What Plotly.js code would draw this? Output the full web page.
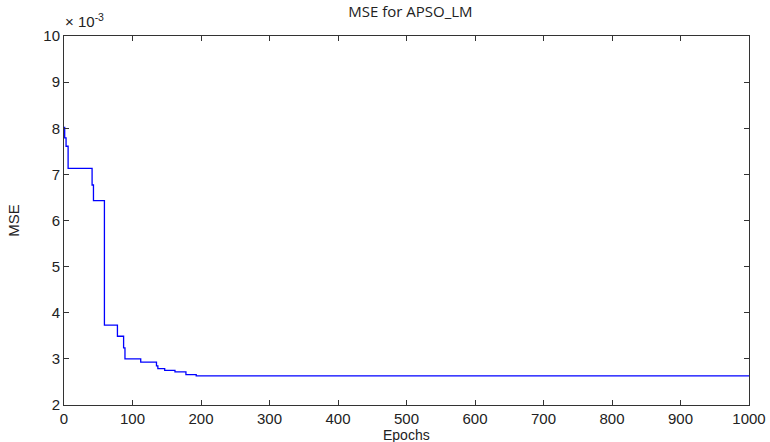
<!DOCTYPE html>
<html>
<head>
<meta charset="utf-8">
<script src="https://cdn.plot.ly/plotly-3.0.1.min.js"></script>
<style>html,body{margin:0;padding:0;background:#fff;}#chart{width:770px;height:442px;}</style>
</head>
<body>
<div id="chart"></div>
<script>
// Epoch at which each new MSE level starts (step plot)
const epochs = [0, 1, 3, 6, 41, 43, 59, 78, 87, 89, 112, 135, 137, 147, 162, 178, 193, 1000];
const mse = [0.00802, 0.00779, 0.00761, 0.00713, 0.00677, 0.00643, 0.00373, 0.00349, 0.00324, 0.00300, 0.00293, 0.00285, 0.00279, 0.00275, 0.00272, 0.00266, 0.00263, 0.00263];
const xTicks = [0, 100, 200, 300, 400, 500, 600, 700, 800, 900, 1000];
const yTickVals = [0.002, 0.003, 0.004, 0.005, 0.006, 0.007, 0.008, 0.009, 0.010];
const yTickText = ['2', '3', '4', '5', '6', '7', '8', '9', '10'];

const FONT = '"Liberation Sans", Arial, sans-serif';
const trace = {
  x: epochs, y: mse, type: 'scatter', mode: 'lines',
  line: {color: '#0000ff', width: 1.3, shape: 'hv'},
  hoverinfo: 'skip'
};
const axisCommon = {
  showgrid: false, zeroline: false, showline: true, linecolor: '#333', linewidth: 1,
  mirror: 'ticks', ticks: 'inside', ticklen: 5, tickcolor: '#333',
  tickfont: {family: FONT, size: 15, color: '#222'}
};
const layout = {
  width: 770, height: 442,
  margin: {l: 64, r: 21, t: 36, b: 37},
  paper_bgcolor: '#fff', plot_bgcolor: '#fff',
  showlegend: false,
  title: {text: 'MSE for APSO_LM', x: 0.533, xanchor: 'center', y: 0.985, yanchor: 'top',
          font: {family: '"Open Sans", "Liberation Sans", sans-serif', size: 15, color: '#222'}},
  xaxis: Object.assign({}, axisCommon, {
    range: [0, 1000], tickvals: xTicks, ticktext: xTicks.map(String), ticklabelstandoff: 0
  }),
  yaxis: Object.assign({}, axisCommon, {
    range: [0.002, 0.010], tickvals: yTickVals, ticktext: yTickText,
    title: {text: 'MSE', standoff: 20, font: {family: FONT, size: 15, color: '#222'}}
  }),
  annotations: [{
    xref: 'paper', yref: 'paper', x: 0, y: 1, xanchor: 'left', yanchor: 'bottom', yshift: 4, xshift: -1,
    showarrow: false, text: '× 10<sup>-3</sup>',
    font: {family: FONT, size: 15, color: '#222'}
  }, {
    xref: 'paper', yref: 'paper', x: 0.5, y: 0, xanchor: 'center', yanchor: 'top', yshift: -21,
    showarrow: false, text: 'Epochs', borderpad: 0,
    font: {family: FONT, size: 14, color: '#222'}
  }]
};
Plotly.newPlot('chart', [trace], layout, {displayModeBar: false, staticPlot: true});
</script>
</body>
</html>
